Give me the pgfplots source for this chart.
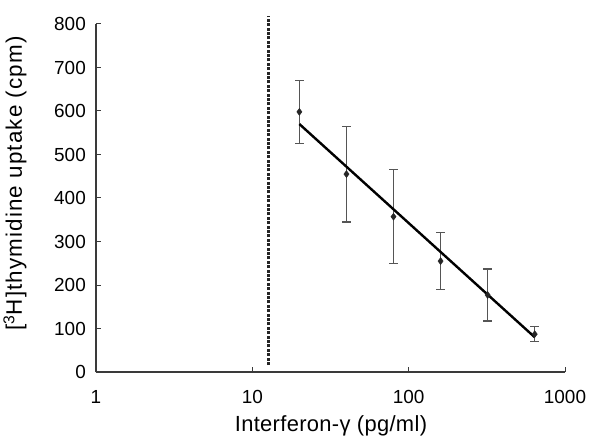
\documentclass[border=0pt]{standalone}
\usepackage{fontspec}
\setmainfont{Liberation Sans}
\usepackage{pgfplots}
\pgfplotsset{compat=1.18}

\definecolor{axisgray}{HTML}{3A3A3A}
\definecolor{errgray}{HTML}{555555}

\begin{document}
\begin{tikzpicture}
\begin{axis}[
  name=ax,
  scale only axis,
  width=469bp, height=348bp,
  xmode=log, xmin=1, xmax=1000,
  ymin=0, ymax=800,
  xtick={1,10,100,1000},
  xticklabels={1,10,100,1000},
  ytick={0,100,...,800},
  xminorticks=false,
  axis x line*=bottom, axis y line*=left,
  axis line style={axisgray, line width=1.3bp},
  tick style={axisgray, line width=1bp},
  tick align=inside,
  major tick length=5bp,
  /pgf/number format/assume math mode=true,
  tick label style={font=\fontsize{19}{22}\selectfont, inner sep=0pt},
  xticklabel style={anchor=north, yshift=-18bp},
  yticklabel style={anchor=east, xshift=-10bp},
  xlabel={Interferon-γ (pg/ml)},
  ylabel={[\textsuperscript{3}H]thymidine uptake (cpm)},
  xlabel style={font=\fontsize{22}{26}\selectfont\addfontfeature{LetterSpace=1.5},
    at={(axis description cs:0.501,-0.1724)}, anchor=base, inner sep=0pt},
  ylabel style={font=\fontsize{22.5}{26}\selectfont\addfontfeature{LetterSpace=5},
    at={(axis description cs:-0.1578,0.5417)}, anchor=base, inner sep=0pt},
  clip=false,
]
% detection limit
\addplot[black!85, line width=2.6bp, dash pattern=on 3bp off 1.4bp]
  coordinates {(12.7,16) (12.7,818)};

% mean +- error
\addplot[only marks, mark=diamond*, mark size=3.5bp, black!85,
  error bars/.cd, y dir=both, y explicit,
  error bar style={errgray, line width=1.3bp},
  error mark options={errgray, rotate=90, mark size=4.3bp, line width=1.3bp}]
  coordinates {
    (20,598)  +- (0,72)
    (40,455)  +- (0,110)
    (80,357)  +- (0,108)
    (160,255) +- (0,65)
    (320,177) +- (0,60)
    (640,87)  +- (0,17)
  };

% regression line
\addplot[black, line width=2.4bp] coordinates {(20,570) (640,80)};
\end{axis}
\pgfresetboundingbox
\path[use as bounding box] ([shift={(-96bp,-65bp)}]ax.south west) rectangle ([shift={(494bp,372bp)}]ax.south west);
\end{tikzpicture}
\end{document}
